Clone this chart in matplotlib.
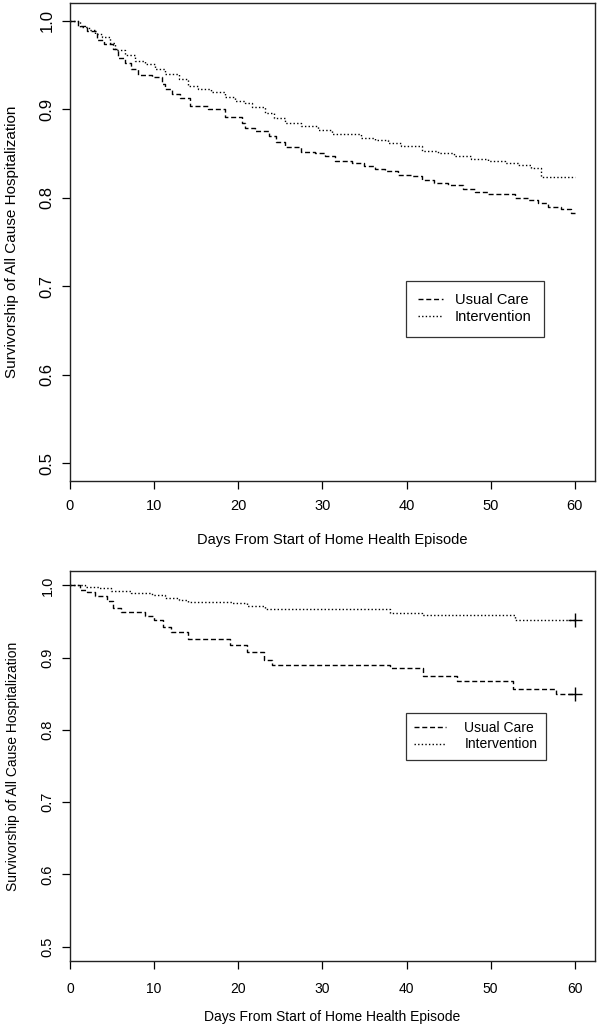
import matplotlib
matplotlib.use("Agg")
import matplotlib.pyplot as plt
from matplotlib.lines import Line2D

plt.rcParams['font.family'] = ['Liberation Sans', 'DejaVu Sans']

END_DAY = 60
x_ticks = [0, 10, 20, 30, 40, 50, 60]
y_ticks = [0.5, 0.6, 0.7, 0.8, 0.9, 1.0]
series_names = ["Usual Care", "Intervention"]
x_label = "Days From Start of Home Health Episode"
y_label = "Survivorship of All Cause Hospitalization"

# Top panel
top_usual_t = [0, 1.0, 2.0, 3.2, 4.1, 5.1, 5.7, 6.5, 7.3, 8.1, 9.7, 10.9, 11.3, 12.1, 13.1, 14.3, 16.4,
               18.4, 20.4, 20.8, 22.0, 23.6, 24.5, 25.5, 27.5, 29.1, 30.3, 31.5, 33.5, 35.0, 36.2, 37.4,
               39.0, 40.6, 41.8, 43.3, 44.9, 46.7, 48.1, 49.7, 52.9, 54.4, 55.6, 56.8, 58.4, 59.5]
top_usual_s = [1.0, 0.994, 0.988, 0.978, 0.974, 0.968, 0.958, 0.952, 0.946, 0.939, 0.936, 0.929, 0.923,
               0.917, 0.913, 0.904, 0.900, 0.891, 0.885, 0.879, 0.875, 0.870, 0.863, 0.857, 0.852, 0.850,
               0.847, 0.842, 0.839, 0.836, 0.832, 0.830, 0.826, 0.824, 0.820, 0.817, 0.814, 0.810, 0.807,
               0.804, 0.800, 0.798, 0.794, 0.790, 0.787, 0.783]
top_int_t = [0, 1.2, 2.2, 3.0, 3.8, 4.75, 5.3, 6.5, 7.7, 8.9, 10.1, 11.3, 12.9, 14.0, 15.2, 16.8, 18.4,
             19.6, 20.8, 21.6, 23.2, 24.3, 25.5, 27.5, 29.5, 31.1, 34.6, 36.2, 37.8, 39.4, 41.8, 43.7,
             45.7, 47.7, 49.7, 51.7, 53.2, 54.8, 56.0]
top_int_s = [1.0, 0.993, 0.989, 0.985, 0.982, 0.975, 0.967, 0.961, 0.955, 0.951, 0.945, 0.940, 0.934,
             0.926, 0.923, 0.919, 0.914, 0.909, 0.907, 0.902, 0.896, 0.890, 0.885, 0.881, 0.877, 0.872,
             0.868, 0.865, 0.862, 0.858, 0.853, 0.851, 0.847, 0.844, 0.841, 0.839, 0.837, 0.834, 0.823]

# Bottom panel
bot_usual_t = [0, 1.2, 2.0, 3.0, 4.4, 5.1, 6.1, 8.9, 10.0, 11.1, 12.0, 14.0, 19.0, 21.0, 23.1, 24.0,
               38.0, 42.0, 46.0, 52.6, 57.8]
bot_usual_s = [1.0, 0.994, 0.991, 0.985, 0.979, 0.969, 0.963, 0.957, 0.952, 0.942, 0.936, 0.926, 0.918,
               0.908, 0.897, 0.890, 0.885, 0.874, 0.867, 0.856, 0.850]
bot_int_t = [0, 1.8, 3.4, 4.9, 7.3, 9.7, 11.3, 12.9, 14.0, 19.2, 21.0, 23.2, 38.0, 41.8, 52.9]
bot_int_s = [1.0, 0.998, 0.996, 0.992, 0.990, 0.987, 0.982, 0.980, 0.977, 0.975, 0.971, 0.967, 0.962,
             0.959, 0.952]

W, H = 597, 1031
fig = plt.figure(figsize=(W / 100, H / 100), dpi=100)

DASH = (3.6, 2.0)
DOT = (1.0, 1.6)
LW = 1.0


def panel(rect, ut, us, it, is_, censor, legend_anchor, label_fs, ytick_fs, ylab_fs, xpad, xlabpad,
          bpad, lspace, hlen, htpad):
    ax = fig.add_axes(rect)
    ax.step(ut + [END_DAY], us + [us[-1]], where='post', color='black', lw=LW,
            dashes=DASH, label=series_names[0])
    ax.step(it + [END_DAY], is_ + [is_[-1]], where='post', color='black', lw=LW,
            dashes=DOT, label=series_names[1])
    if censor:
        ax.plot([END_DAY, END_DAY], [us[-1], is_[-1]], ls='none', marker='+', ms=10,
                mew=1.0, color='black')
    ax.set_xlim(0, 62.4)
    ax.set_ylim(0.48, 1.02)
    ax.set_xticks(x_ticks)
    ax.set_yticks(y_ticks)
    ax.set_xticklabels([str(v) for v in x_ticks], fontsize=label_fs)
    ax.set_yticklabels([f"{v:.1f}" for v in y_ticks], fontsize=ytick_fs, rotation=90, va='center')
    ax.tick_params(direction='out', length=6, width=0.9, colors='black', pad=5)
    ax.tick_params(axis='x', pad=xpad)
    for s in ax.spines.values():
        s.set_linewidth(1.0)
        s.set_color('#222222')
    ax.set_xlabel(x_label, fontsize=label_fs, labelpad=xlabpad)
    ax.set_ylabel(y_label, fontsize=ylab_fs, labelpad=15)
    handles = [Line2D([], [], color='black', lw=LW, dashes=DASH),
               Line2D([], [], color='black', lw=LW, dashes=DOT)]
    leg = ax.legend(handles, series_names, loc='upper left', bbox_to_anchor=legend_anchor,
                    fontsize=label_fs, frameon=True, fancybox=False, edgecolor='black',
                    handlelength=hlen, handletextpad=htpad, borderpad=bpad, labelspacing=lspace,
                    borderaxespad=0)
    leg.get_frame().set_linewidth(0.9)
    return ax


def rect_from_px(l, t, r, b):
    return [l / W, 1 - b / H, (r - l) / W, (b - t) / H]


panel(rect_from_px(70, 3, 595, 481), top_usual_t, top_usual_s, top_int_t, top_int_s,
      False, ((406 - 70) / 525, 1 - (281 - 3) / 478), 10.5, 12, 11, 7, 14, 0.85, 0.2, 1.7, 0.8)
panel(rect_from_px(70, 571, 595, 961), bot_usual_t, bot_usual_s, bot_int_t, bot_int_s,
      True, ((406 - 70) / 525, 1 - (713 - 571) / 390), 10, 10.5, 10, 9, 10, 0.6, 0.15, 2.3, 1.3)

fig.savefig("out.png", dpi=100)
